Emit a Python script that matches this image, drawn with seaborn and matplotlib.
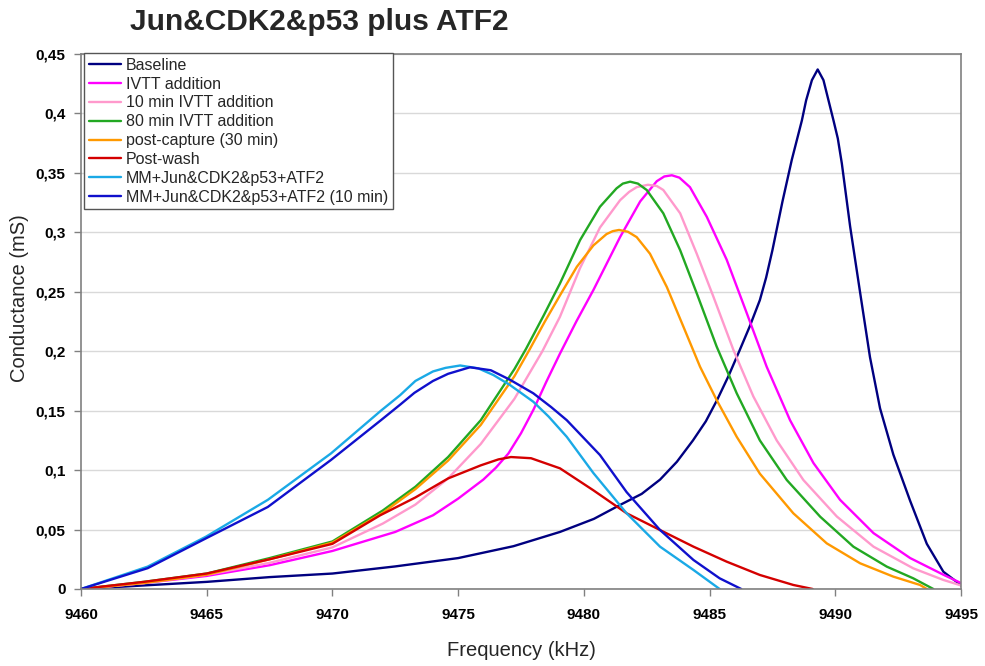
import numpy as np
import pandas as pd
import matplotlib
matplotlib.use("Agg")
import matplotlib.pyplot as plt
from matplotlib.ticker import FuncFormatter
import seaborn as sns

# ---- series data (frequency in kHz, conductance in mS) ----
series_names = [
    "Baseline",
    "IVTT addition",
    "10 min IVTT addition",
    "80 min IVTT addition",
    "post-capture (30 min)",
    "Post-wash",
    "MM+Jun&CDK2&p53+ATF2",
    "MM+Jun&CDK2&p53+ATF2 (10 min)",
]
series_colors = ["#000080", "#FF00FF", "#FF99CC", "#22A822",
                 "#FF9900", "#D40000", "#1AA9E6", "#1010CC"]

baseline_f = [9460, 9462.5, 9465, 9467.5, 9470, 9472.5, 9475, 9477.2, 9479.05, 9480.4,
              9481.44, 9482.3, 9483.03, 9483.7, 9484.34, 9484.85, 9485.3, 9485.75, 9486.2,
              9486.6, 9487.0, 9487.25, 9487.5, 9487.9, 9488.27, 9488.67, 9488.84, 9489.07,
              9489.3, 9489.53, 9489.73, 9489.93, 9490.1, 9490.26, 9490.59, 9490.99, 9491.38,
              9491.78, 9492.31, 9492.98, 9493.64, 9494.3, 9494.83, 9495]
baseline_g = [0, 0.003, 0.006, 0.010, 0.013, 0.019, 0.026, 0.036, 0.048, 0.059,
              0.0707, 0.080, 0.092, 0.107, 0.125, 0.141, 0.159, 0.179, 0.201,
              0.221, 0.243, 0.262, 0.285, 0.326, 0.361, 0.394, 0.411, 0.428,
              0.437, 0.428, 0.411, 0.394, 0.379, 0.358, 0.305, 0.249, 0.195,
              0.152, 0.113, 0.074, 0.038, 0.0145, 0.006, 0.003]

ivtt_f = [9460, 9462.5, 9465, 9467.5, 9470, 9472.5, 9474, 9475, 9476, 9476.5, 9477, 9477.5,
          9478, 9478.5, 9479.05, 9479.7, 9480.38, 9481.44, 9482.24, 9482.9, 9483.2, 9483.5,
          9483.8, 9484.22, 9484.89, 9485.68, 9486.48, 9487.27, 9488.2, 9489.13, 9490.19,
          9491.52, 9492.98, 9494.3, 9495]
ivtt_g = [0, 0.005, 0.011, 0.020, 0.032, 0.048, 0.062, 0.076, 0.092, 0.102, 0.114, 0.131,
          0.151, 0.174, 0.198, 0.225, 0.2515, 0.296, 0.326, 0.343, 0.347, 0.348,
          0.346, 0.338, 0.313, 0.277, 0.232, 0.187, 0.142, 0.106, 0.075,
          0.047, 0.026, 0.012, 0.005]

ivtt10_f = [9460, 9462.5, 9465, 9467.5, 9470, 9472, 9473.3, 9474.6, 9475.9, 9477.24, 9478.35,
            9479.05, 9479.85, 9480.64, 9481.44, 9481.8, 9482.1, 9482.55, 9482.9, 9483.16,
            9483.83, 9484.49, 9485.15, 9485.95, 9486.74, 9487.67, 9488.73, 9490.06, 9491.52,
            9493.1, 9494.3, 9495]
ivtt10_g = [0, 0.005, 0.012, 0.022, 0.035, 0.055, 0.071, 0.093, 0.122, 0.160, 0.200,
            0.229, 0.270, 0.304, 0.327, 0.334, 0.338, 0.340, 0.339, 0.3356,
            0.316, 0.282, 0.246, 0.201, 0.162, 0.125, 0.0917, 0.061, 0.0356,
            0.0174, 0.0076, 0.003]

ivtt80_f = [9460, 9462.5, 9465, 9467.5, 9470, 9472, 9473.3, 9474.6, 9475.9, 9477.24, 9477.7,
            9478.4, 9479.05, 9479.85, 9480.64, 9481.3, 9481.55, 9481.84, 9482.15, 9482.5,
            9483.16, 9483.83, 9484.49, 9485.28, 9486.08, 9487.0, 9488.07, 9489.4, 9490.72,
            9492.05, 9493.1, 9493.9]
ivtt80_g = [0, 0.006, 0.013, 0.026, 0.040, 0.066, 0.086, 0.111, 0.142, 0.185, 0.202,
            0.230, 0.257, 0.2935, 0.3215, 0.337, 0.341, 0.3426, 0.341, 0.3356,
            0.316, 0.285, 0.2487, 0.204, 0.1646, 0.125, 0.0917, 0.0608, 0.0356,
            0.0188, 0.009, 0.0]

capture_f = [9460, 9462.5, 9465, 9467.5, 9470, 9472, 9473.3, 9474.6, 9475.9, 9477.24, 9477.83,
             9478.45, 9479.05, 9479.72, 9480.38, 9480.9, 9481.15, 9481.4, 9481.75, 9482.1,
             9482.63, 9483.3, 9483.96, 9484.62, 9485.28, 9486.08, 9487.0, 9488.33, 9489.66,
             9490.99, 9492.31, 9493.37, 9493.64]
capture_g = [0, 0.005, 0.012, 0.025, 0.039, 0.064, 0.084, 0.108, 0.138, 0.179, 0.201,
             0.225, 0.247, 0.271, 0.289, 0.2985, 0.301, 0.302, 0.3005, 0.296,
             0.282, 0.254, 0.2206, 0.187, 0.159, 0.128, 0.097, 0.0637, 0.0384,
             0.0216, 0.0104, 0.0034, 0.0]

wash_f = [9460, 9462.5, 9465, 9467.5, 9470, 9471.9, 9473.3, 9474.6, 9475.9, 9476.6, 9477.1,
          9477.9, 9479.05, 9480.38, 9481.7, 9483.03, 9484.36, 9485.68, 9487.0, 9488.33, 9489.1]
wash_g = [0, 0.006, 0.013, 0.025, 0.038, 0.062, 0.077, 0.093, 0.104, 0.109, 0.111,
          0.110, 0.1015, 0.083, 0.0637, 0.0496, 0.0356, 0.023, 0.0118, 0.0034, 0.0]

mm_f = [9460, 9462.65, 9464.97, 9467.43, 9469.94, 9471.93, 9472.69, 9473.3, 9474.0, 9474.5,
        9475.08, 9475.8, 9476.4, 9477.06, 9477.99, 9478.6, 9479.32, 9480.38, 9481.7, 9483.03,
        9484.36, 9485.4]
mm_g = [0, 0.0188, 0.044, 0.075, 0.114, 0.150, 0.163, 0.175, 0.183, 0.186,
        0.188, 0.1856, 0.180, 0.1716, 0.1575, 0.145, 0.128, 0.0975, 0.0637, 0.0356,
        0.016, 0.0]

mm10_f = [9460, 9462.65, 9464.97, 9467.43, 9469.94, 9471.93, 9472.69, 9473.26, 9474.0, 9474.6,
          9475.47, 9476.3, 9477.06, 9477.99, 9478.7, 9479.32, 9480.64, 9481.7, 9483.03, 9484.36,
          9485.4, 9486.26]
mm10_g = [0, 0.0175, 0.0426, 0.069, 0.1085, 0.142, 0.155, 0.165, 0.175, 0.181,
          0.1865, 0.184, 0.176, 0.1646, 0.153, 0.142, 0.1127, 0.0815, 0.0496, 0.0244,
          0.009, 0.0]

x_ticks = [9460, 9465, 9470, 9475, 9480, 9485, 9490, 9495]
y_ticks = [0, 0.05, 0.1, 0.15, 0.2, 0.25, 0.3, 0.35, 0.4, 0.45]

all_f = [baseline_f, ivtt_f, ivtt10_f, ivtt80_f, capture_f, wash_f, mm_f, mm10_f]
all_g = [baseline_g, ivtt_g, ivtt10_g, ivtt80_g, capture_g, wash_g, mm_g, mm10_g]

frames = []
for name, f, g in zip(series_names, all_f, all_g):
    frames.append(pd.DataFrame({"Frequency": f, "Conductance": g, "Series": name}))
df = pd.concat(frames, ignore_index=True)

# ---- styling ----
sns.set_theme(style="white")
plt.rcParams["font.family"] = ["Liberation Sans", "DejaVu Sans"]

W, H = 985, 666
fig = plt.figure(figsize=(W / 100, H / 100), dpi=100)
ax = fig.add_axes([81 / W, 1 - 589 / H, 880 / W, 535 / H])

sns.lineplot(data=df, x="Frequency", y="Conductance", hue="Series",
             hue_order=series_names, palette=dict(zip(series_names, series_colors)),
             estimator=None, sort=False, linewidth=1.7, ax=ax)

ax.set_xlim(9460, 9495)
ax.set_ylim(0, 0.45)
ax.set_xticks(x_ticks)
ax.set_yticks(y_ticks)
ax.yaxis.set_major_formatter(FuncFormatter(lambda v, p: f"{v:g}".replace(".", ",")))
ax.xaxis.set_major_formatter(FuncFormatter(lambda v, p: f"{v:.0f}"))

ax.grid(axis="y", color="#D9D9D9", linewidth=1)
ax.grid(axis="x", visible=False)
for s in ax.spines.values():
    s.set_color("#808080")
    s.set_linewidth(1.2)

ax.tick_params(axis="both", direction="out", length=5, width=1, color="#808080",
               labelsize=11, labelcolor="black", bottom=True, left=True)
ax.tick_params(axis="x", pad=9)
ax.tick_params(axis="y", pad=6)
for lbl in ax.get_xticklabels() + ax.get_yticklabels():
    lbl.set_fontweight("bold")

ax.set_xlabel("")
ax.set_ylabel("")
fig.text(521 / W, 1 - 651 / H, "Frequency (kHz)", ha="center", va="center", fontsize=14.5)
fig.text(20 / W, 1 - 298 / H, "Conductance (mS)", ha="center", va="center",
         rotation=90, fontsize=14.5)
fig.text(130 / W, 1 - 22 / H, "Jun&CDK2&p53 plus ATF2", ha="left", va="center",
         fontsize=21.5, fontweight="bold")

leg = ax.legend(loc="upper left", bbox_to_anchor=(84 / W, 1 - 53 / H),
                bbox_transform=fig.transFigure, frameon=True, fancybox=False,
                borderaxespad=0, fontsize=11.5, handlelength=2.0, handletextpad=0.3,
                labelspacing=0.24, borderpad=0.3, title=None)
leg.get_frame().set_edgecolor("#555555")
leg.get_frame().set_linewidth(1)
leg.get_frame().set_alpha(1)
for line in leg.get_lines():
    line.set_linewidth(1.7)

fig.savefig("out.png", dpi=100, facecolor="white")
